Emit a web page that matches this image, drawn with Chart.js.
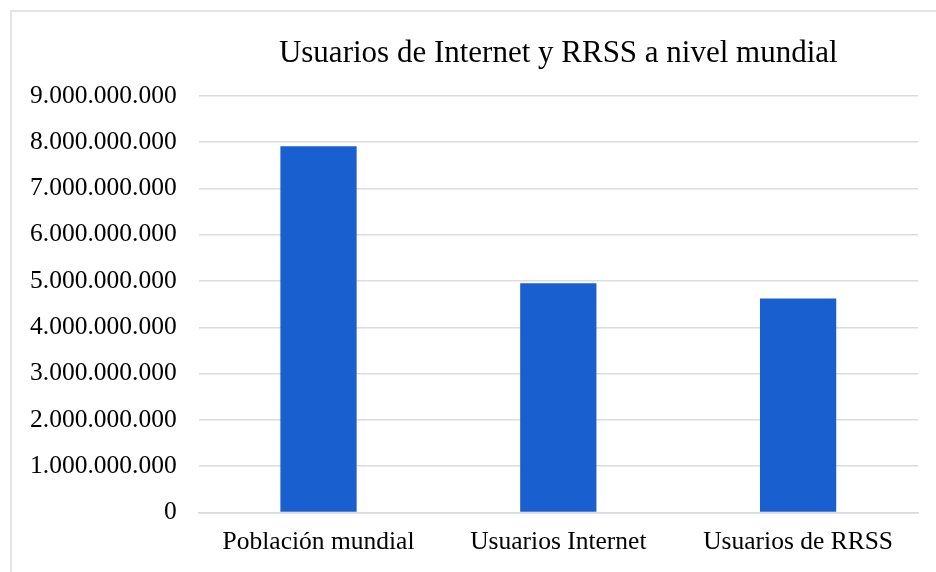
<!DOCTYPE html>
<html>
<head>
<meta charset="utf-8">
<script src="https://cdn.jsdelivr.net/npm/chart.js@4/dist/chart.umd.min.js"></script>
<style>
  html, body { margin: 0; padding: 0; background: #fff; }
  #wrap { position: relative; width: 936px; height: 572px; overflow: hidden; }
  #frame { position: absolute; left: 10px; top: 10px; width: 1000px; height: 700px;
           border: 2px solid #e3e3e3; box-sizing: border-box; pointer-events: none; }
  canvas { position: absolute; left: 0; top: 0; }
</style>
</head>
<body>
<div id="wrap">
  <canvas id="c" width="936" height="572"></canvas>
  <div id="frame"></div>
</div>
<script>
const chartTitle = "Usuarios de Internet y RRSS a nivel mundial";
const categories = ["Población mundial", "Usuarios Internet", "Usuarios de RRSS"];
const values = [7910000000, 4950000000, 4620000000];
const yMin = 0;
const yMax = 9000000000;
const yStep = 1000000000;

const FONT = "'Liberation Serif', 'Times New Roman', serif";

function fmt(v) {
  return String(Math.round(v)).replace(/\B(?=(\d{3})+(?!\d))/g, ".");
}

// center the title over the plot area
const titleOverPlot = {
  id: 'titleOverPlot',
  afterLayout(chart) {
    const t = chart.titleBlock;
    if (t) {
      t.left = chart.chartArea.left;
      t.right = chart.chartArea.right;
      t.width = t.right - t.left;
    }
  }
};

new Chart(document.getElementById('c'), {
  type: 'bar',
  data: {
    labels: categories,
    datasets: [{
      data: values,
      backgroundColor: '#1a5fcf',
      borderWidth: 0,
      barPercentage: 0.318,
      categoryPercentage: 1
    }]
  },
  plugins: [titleOverPlot],
  options: {
    responsive: false,
    animation: false,
    devicePixelRatio: 1,
    layout: { padding: { left: 8, right: 18, top: 20, bottom: 0 } },
    plugins: {
      legend: { display: false },
      tooltip: { enabled: false },
      title: {
        display: true,
        text: chartTitle,
        color: '#000',
        font: { family: FONT, size: 31, weight: 'normal', lineHeight: 1.2 },
        padding: { top: 15, bottom: 23.6 }
      }
    },
    scales: {
      x: {
        grid: { display: false, drawTicks: false },
        border: { display: true, color: '#d9d9d9', width: 1.5 },
        ticks: {
          color: '#000',
          padding: 17,
          maxRotation: 0,
          font: { family: FONT, size: 25.5, lineHeight: 1.0 }
        }
      },
      y: {
        min: yMin,
        max: yMax,
        grid: { color: '#dcdcdc', lineWidth: 1.5, drawTicks: false },
        border: { display: false },
        ticks: {
          stepSize: yStep,
          color: '#000',
          padding: 22,
          font: { family: FONT, size: 25.5, lineHeight: 1.2 },
          callback: (v) => fmt(v)
        }
      }
    }
  }
});
</script>
</body>
</html>
